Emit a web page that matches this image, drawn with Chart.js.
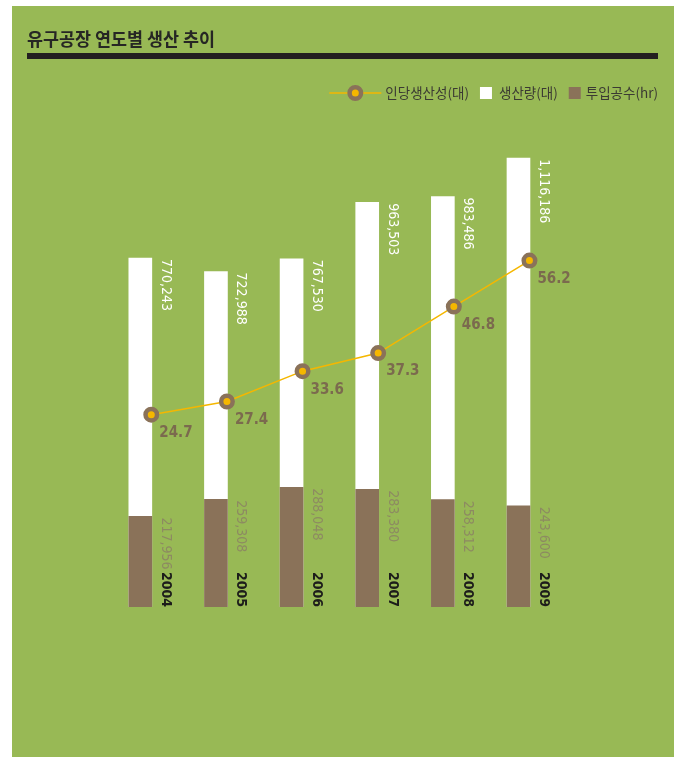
<!DOCTYPE html>
<html>
<head>
<meta charset="utf-8">
<script src="https://cdn.jsdelivr.net/npm/chart.js@4"></script>
<style>
  html, body { margin: 0; padding: 0; background: #fff; }
  canvas { display: block; }
</style>
</head>
<body>
<canvas id="chart" width="691" height="759"></canvas>
<script>
// data
const years = ["2004", "2005", "2006", "2007", "2008", "2009"];
const productivity = [24.7, 27.4, 33.6, 37.3, 46.8, 56.2];
const production = [770243, 722988, 767530, 963503, 983486, 1116186];
const manHours = [217956, 259308, 288048, 283380, 258312, 243600];
const seriesNames = ["인당생산성(대)", "생산량(대)", "투입공수(hr)"];
const title = "유구공장 연도별 생산 추이";

const GREEN = "#98b955";
const BROWN = "#8a7259";
const YELLOW = "#f5b700";
const NUM_FONT = "'DejaVu Sans Condensed', 'Liberation Sans Narrow', sans-serif";
const KR_FONT = "'Noto Sans CJK KR', sans-serif";

// background panel, title, rule and legend
const frame = {
  id: "frame",
  beforeDraw(chart) {
    const ctx = chart.ctx;
    ctx.save();
    ctx.fillStyle = "#fff";
    ctx.fillRect(0, 0, chart.width, chart.height);
    ctx.fillStyle = GREEN;
    ctx.fillRect(12, 6, 662, 751);

    // title squeezed a little, like the condensed original
    ctx.fillStyle = "#262624";
    ctx.font = "bold 18px " + KR_FONT;
    ctx.textBaseline = "middle";
    ctx.textAlign = "left";
    const tw = ctx.measureText(title).width;
    ctx.save();
    ctx.translate(27, 39);
    ctx.scale(188 / tw, 1);
    ctx.fillText(title, 0, 0);
    ctx.restore();

    ctx.fillStyle = "#231f20";
    ctx.fillRect(27, 53, 631, 6);

    // legend, right aligned
    ctx.font = "13.5px " + KR_FONT;
    const w = seriesNames.map((s) => ctx.measureText(s).width);
    const total = 52 + 4 + w[0] + 11 + 12 + 7 + w[1] + 11 + 12 + 5 + w[2];
    let x = 658 - total;
    const y = 93;
    ctx.strokeStyle = YELLOW;
    ctx.lineWidth = 1.5;
    ctx.beginPath();
    ctx.moveTo(x, y);
    ctx.lineTo(x + 52, y);
    ctx.stroke();
    ctx.beginPath();
    ctx.arc(x + 26, y, 5.75, 0, Math.PI * 2);
    ctx.fillStyle = YELLOW;
    ctx.fill();
    ctx.strokeStyle = BROWN;
    ctx.lineWidth = 4.5;
    ctx.stroke();
    x += 56;
    ctx.fillStyle = "#3b3a33";
    ctx.fillText(seriesNames[0], x, y);
    x += w[0] + 11;
    ctx.fillStyle = "#fff";
    ctx.fillRect(x, y - 6, 12, 12);
    x += 19;
    ctx.fillStyle = "#3b3a33";
    ctx.fillText(seriesNames[1], x, y);
    x += w[1] + 11;
    ctx.fillStyle = BROWN;
    ctx.fillRect(x, y - 6, 12, 12);
    x += 17;
    ctx.fillStyle = "#3b3a33";
    ctx.fillText(seriesNames[2], x, y);
    ctx.restore();
  },
};

function vtext(ctx, text, x, y, align) {
  ctx.save();
  ctx.translate(x, y);
  ctx.rotate(Math.PI / 2);
  ctx.textAlign = align;
  ctx.textBaseline = "middle";
  ctx.fillText(text, 0, 0);
  ctx.restore();
}

// rotated value labels, year labels and line values
const labels = {
  id: "labels",
  afterDatasetsDraw(chart) {
    const ctx = chart.ctx;
    const white = chart.getDatasetMeta(0).data;
    const brown = chart.getDatasetMeta(1).data;
    const dots = chart.getDatasetMeta(2).data;
    ctx.save();
    white.forEach((bar, i) => {
      const x = bar.x + bar.width / 2 + 13.5;
      ctx.font = "14px " + NUM_FONT;
      ctx.fillStyle = "#ffffff";
      vtext(ctx, production[i].toLocaleString("en-US"), x, bar.y + 1, "left");
      ctx.fillStyle = "#8d8a62";
      vtext(ctx, manHours[i].toLocaleString("en-US"), x, brown[i].y + 1, "left");
      ctx.font = "bold 14px " + NUM_FONT;
      ctx.fillStyle = "#1d1d1b";
      vtext(ctx, years[i], x, bar.base, "right");
    });
    ctx.font = "bold 15px " + NUM_FONT;
    ctx.fillStyle = "#7b6a4e";
    ctx.textAlign = "left";
    ctx.textBaseline = "top";
    dots.forEach((p, i) => {
      ctx.fillText(productivity[i].toFixed(1), p.x + 8, p.y + 11);
    });
    ctx.restore();
  },
};

new Chart(document.getElementById("chart"), {
  data: {
    labels: years,
    datasets: [
      {
        type: "bar",
        label: seriesNames[1],
        data: production,
        backgroundColor: "#ffffff",
        yAxisID: "y",
        base: -440000,
        grouped: false,
        order: 3,
      },
      {
        type: "bar",
        label: seriesNames[2],
        data: manHours,
        backgroundColor: BROWN,
        yAxisID: "y2",
        grouped: false,
        order: 2,
      },
      {
        type: "line",
        label: seriesNames[0],
        data: productivity.map((v, i) => ({ x: i, y: v })),
        xAxisID: "xLine",
        yAxisID: "y3",
        borderColor: YELLOW,
        borderWidth: 1.5,
        pointRadius: 5.75,
        pointBorderWidth: 4.5,
        pointBackgroundColor: YELLOW,
        pointBorderColor: BROWN,
        order: 1,
      },
    ],
  },
  options: {
    responsive: false,
    animation: false,
    events: [],
    layout: { padding: { left: 102.5, right: 134.7, top: 150, bottom: 152 } },
    datasets: { bar: { barThickness: 23 } },
    plugins: { legend: { display: false }, tooltip: { enabled: false } },
    scales: {
      x: { type: "category", display: false, offset: true },
      xLine: { type: "linear", display: false, min: -0.645, max: 5.355 },
      y: { display: false, min: -440000, max: 1144600 },
      y2: { display: false, min: 0, max: 1100000 },
      y3: { display: false, min: -14.6, max: 78.8 },
    },
  },
  plugins: [frame, labels],
});
</script>
</body>
</html>
